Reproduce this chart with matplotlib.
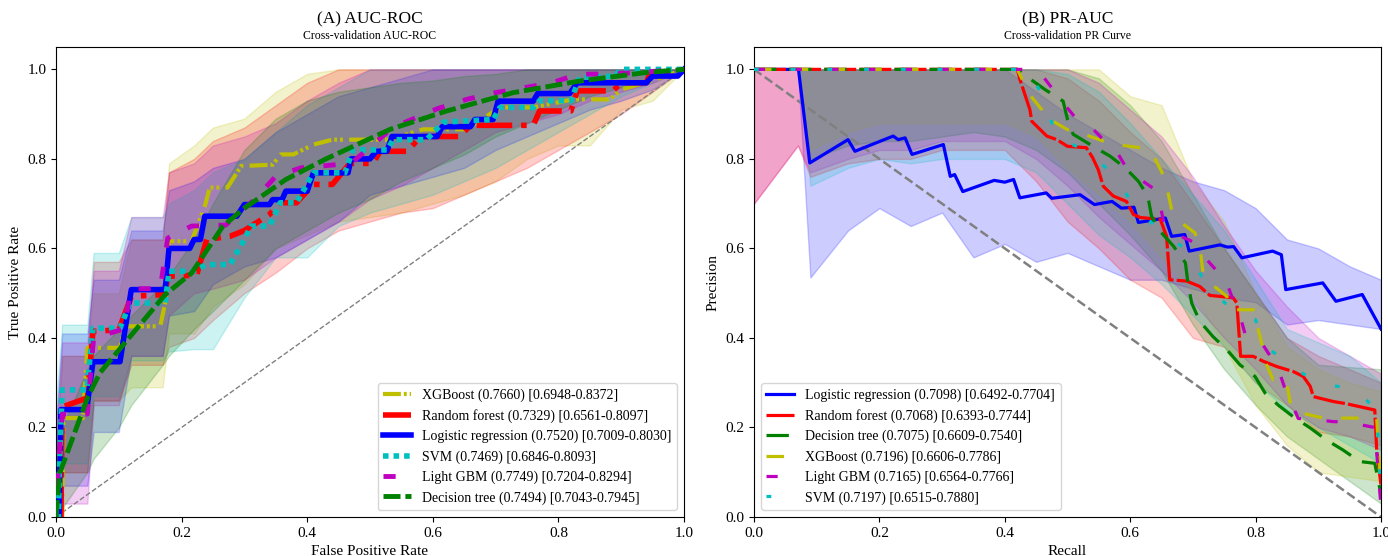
import numpy as np
import matplotlib
matplotlib.use("Agg")
import matplotlib.pyplot as plt

plt.rcParams['font.family'] = ['Liberation Serif', 'DejaVu Serif']

# ---------------- ROC data ----------------
xgb_fpr = [0, 0.01, 0.012, 0.043, 0.05, 0.102, 0.11, 0.166, 0.175, 0.18, 0.216, 0.237, 0.245, 0.273, 0.295,
           0.345, 0.358, 0.378, 0.41, 0.44, 0.53, 0.585, 0.654, 0.707, 0.76, 0.823, 0.882, 0.90, 0.95, 1.0]
xgb_tpr = [0, 0.0, 0.221, 0.221, 0.378, 0.378, 0.426, 0.426, 0.485, 0.616, 0.616, 0.694, 0.736, 0.736, 0.784,
           0.787, 0.81, 0.81, 0.832, 0.843, 0.843, 0.866, 0.866, 0.915, 0.915, 0.933, 0.933, 0.955, 0.975, 1.0]

rf_fpr = [0, 0.008, 0.01, 0.05, 0.059, 0.10, 0.12, 0.174, 0.178, 0.224, 0.24, 0.277, 0.30, 0.34, 0.357, 0.383,
          0.41, 0.44, 0.468, 0.505, 0.516, 0.56, 0.58, 0.643, 0.66, 0.76, 0.77, 0.82, 0.83, 0.887, 0.90, 0.94,
          0.945, 0.99, 1.0]
rf_tpr = [0, 0.0, 0.246, 0.266, 0.415, 0.418, 0.493, 0.497, 0.538, 0.54, 0.62, 0.627, 0.64, 0.676, 0.702, 0.702,
          0.743, 0.743, 0.79, 0.79, 0.817, 0.817, 0.85, 0.85, 0.875, 0.875, 0.907, 0.907, 0.952, 0.952, 0.97, 0.97,
          0.989, 0.989, 1.0]

lr_fpr = [0, 0.005, 0.008, 0.049, 0.059, 0.102, 0.12, 0.174, 0.18, 0.213, 0.22, 0.23, 0.237, 0.288, 0.30, 0.34,
          0.345, 0.36, 0.366, 0.40, 0.41, 0.465, 0.47, 0.50, 0.51, 0.527, 0.535, 0.607, 0.615, 0.66, 0.667, 0.696,
          0.704, 0.76, 0.767, 0.818, 0.83, 0.94, 0.95, 0.99, 1.0]
lr_tpr = [0, 0.0, 0.24, 0.24, 0.347, 0.347, 0.508, 0.508, 0.60, 0.60, 0.62, 0.62, 0.672, 0.672, 0.698, 0.698,
          0.709, 0.709, 0.728, 0.728, 0.769, 0.769, 0.80, 0.80, 0.817, 0.817, 0.85, 0.85, 0.872, 0.872, 0.888, 0.888,
          0.929, 0.929, 0.946, 0.946, 0.97, 0.97, 0.985, 0.985, 1.0]

svm_fpr = [0, 0.004, 0.006, 0.01, 0.049, 0.059, 0.102, 0.118, 0.174, 0.18, 0.218, 0.24, 0.277, 0.30, 0.31, 0.34,
           0.357, 0.383, 0.41, 0.46, 0.473, 0.527, 0.537, 0.59, 0.617, 0.696, 0.707, 0.76, 0.77, 0.82, 0.834,
           0.89, 0.90, 1.0]
svm_tpr = [0, 0.0, 0.13, 0.284, 0.284, 0.422, 0.422, 0.478, 0.478, 0.549, 0.549, 0.564, 0.564, 0.62, 0.65, 0.65,
           0.702, 0.702, 0.769, 0.769, 0.82, 0.82, 0.843, 0.843, 0.882, 0.888, 0.915, 0.915, 0.93, 0.93, 0.982,
           0.985, 1.0, 1.0]

lgbm_fpr = [0, 0.005, 0.01, 0.05, 0.06, 0.108, 0.12, 0.166, 0.178, 0.216, 0.27, 0.316, 0.35, 0.39, 0.47, 0.536,
            0.607, 0.654, 0.70, 0.79, 0.83, 0.89, 1.0]
lgbm_tpr = [0, 0.14, 0.23, 0.23, 0.40, 0.42, 0.51, 0.51, 0.623, 0.65, 0.652, 0.709, 0.761, 0.78, 0.79, 0.87,
            0.912, 0.933, 0.948, 0.97, 0.989, 0.99, 1.0]

dt_fpr = [0, 0.006, 0.051, 0.07, 0.118, 0.174, 0.216, 0.266, 0.30, 0.366, 0.43, 0.532, 0.622, 0.728, 0.834, 0.94, 1.0]
dt_tpr = [0, 0.098, 0.269, 0.322, 0.403, 0.497, 0.545, 0.65, 0.69, 0.754, 0.80, 0.866, 0.907, 0.948, 0.974, 0.993, 1.0]

# confidence bands on a shared fpr grid
roc_grid = [0, 0.01, 0.05, 0.06, 0.10, 0.12, 0.17, 0.18, 0.22, 0.25, 0.30, 0.35, 0.40, 0.45, 0.50, 0.55,
            0.60, 0.65, 0.70, 0.75, 0.80, 0.85, 0.90, 0.95, 1.00]
xgb_hi = [0.10, 0.36, 0.36, 0.50, 0.50, 0.62, 0.62, 0.79, 0.83, 0.87, 0.89, 0.95, 0.99, 1, 1, 1, 1, 1, 1, 1, 1, 1, 1, 1, 1]
xgb_lo = [0.00, 0.10, 0.10, 0.26, 0.26, 0.29, 0.29, 0.41, 0.41, 0.47, 0.52, 0.60, 0.63, 0.66, 0.67, 0.68, 0.70,
          0.72, 0.75, 0.80, 0.83, 0.83, 0.91, 0.93, 1.00]
rf_hi = [0.15, 0.36, 0.36, 0.57, 0.57, 0.62, 0.62, 0.77, 0.80, 0.84, 0.87, 0.92, 0.97, 1, 1, 1, 1, 1, 1, 1, 1, 1, 1, 1, 1]
rf_lo = [0.00, 0.10, 0.10, 0.26, 0.26, 0.34, 0.34, 0.38, 0.40, 0.44, 0.50, 0.546, 0.60, 0.64, 0.66, 0.68, 0.69,
         0.72, 0.75, 0.78, 0.82, 0.86, 0.90, 0.95, 1.00]
lr_hi = [0.20, 0.41, 0.41, 0.53, 0.53, 0.64, 0.64, 0.73, 0.75, 0.78, 0.80, 0.86, 0.90, 0.94, 0.96, 0.98, 1, 1, 1,
         1, 1, 1, 1, 1, 1]
lr_lo = [0.00, 0.07, 0.07, 0.19, 0.19, 0.36, 0.36, 0.45, 0.46, 0.52, 0.56, 0.58, 0.62, 0.66, 0.72, 0.74, 0.76,
         0.78, 0.82, 0.85, 0.88, 0.91, 0.93, 0.955, 1.00]
svm_hi = [0.25, 0.43, 0.43, 0.59, 0.59, 0.67, 0.67, 0.70, 0.73, 0.77, 0.80, 0.86, 0.92, 0.96, 1, 1, 1, 1, 1, 1,
          1, 1, 1, 1, 1]
svm_lo = [0.00, 0.12, 0.12, 0.27, 0.27, 0.35, 0.35, 0.37, 0.375, 0.375, 0.49, 0.58, 0.58, 0.65, 0.68, 0.70, 0.72,
          0.75, 0.78, 0.82, 0.86, 0.90, 0.94, 0.97, 1.00]
lgbm_hi = [0.20, 0.39, 0.39, 0.55, 0.55, 0.67, 0.67, 0.77, 0.79, 0.83, 0.85, 0.88, 0.93, 0.97, 1, 1, 1, 1, 1, 1,
           1, 1, 1, 1, 1]
lgbm_lo = [0.00, 0.03, 0.03, 0.25, 0.25, 0.36, 0.36, 0.45, 0.50, 0.51, 0.53, 0.58, 0.62, 0.66, 0.71, 0.74, 0.78,
           0.82, 0.86, 0.88, 0.90, 0.93, 0.95, 0.97, 1.00]
dt_hi = [0.05, 0.20, 0.33, 0.36, 0.42, 0.45, 0.52, 0.54, 0.62, 0.70, 0.82, 0.89, 0.93, 0.95, 0.96, 0.97, 0.975,
         0.985, 0.99, 1, 1, 1, 1, 1, 1]
dt_lo = [0.00, 0.02, 0.10, 0.13, 0.20, 0.25, 0.34, 0.36, 0.42, 0.46, 0.53, 0.60, 0.64, 0.68, 0.71, 0.75, 0.78,
         0.81, 0.85, 0.88, 0.91, 0.94, 0.96, 0.98, 1.00]

roc_labels = ["XGBoost (0.7660) [0.6948-0.8372]",
              "Random forest (0.7329) [0.6561-0.8097]",
              "Logistic regression (0.7520) [0.7009-0.8030]",
              "SVM (0.7469) [0.6846-0.8093]",
              "Light GBM (0.7749) [0.7204-0.8294]",
              "Decision tree (0.7494) [0.7043-0.7945]"]

# ---------------- PR data ----------------
lr_rec = [0.0, 0.071, 0.089, 0.150, 0.161, 0.222, 0.23, 0.241, 0.252, 0.302, 0.313, 0.32, 0.333, 0.383, 0.40,
          0.414, 0.424, 0.466, 0.475, 0.52, 0.543, 0.571, 0.586, 0.606, 0.613, 0.656, 0.666, 0.687, 0.694, 0.743,
          0.755, 0.765, 0.778, 0.827, 0.841, 0.848, 0.907, 0.928, 0.97, 1.0]
lr_prec = [1.0, 1.0, 0.791, 0.843, 0.817, 0.851, 0.843, 0.847, 0.81, 0.832, 0.761, 0.765, 0.727, 0.752, 0.748,
           0.754, 0.713, 0.724, 0.712, 0.72, 0.698, 0.705, 0.69, 0.692, 0.658, 0.668, 0.627, 0.631, 0.594, 0.608,
           0.603, 0.604, 0.579, 0.594, 0.586, 0.508, 0.523, 0.482, 0.497, 0.42]

rf_rec = [0.0, 0.42, 0.424, 0.44, 0.443, 0.467, 0.483, 0.50, 0.53, 0.54, 0.549, 0.557, 0.573, 0.594, 0.605, 0.616,
          0.648, 0.658, 0.663, 0.69, 0.711, 0.727, 0.764, 0.77, 0.775, 0.776, 0.796, 0.812, 0.834, 0.86, 0.876,
          0.887, 0.892, 0.924, 0.945, 0.99, 0.993, 1.0]
rf_prec = [1.0, 1.0, 0.978, 0.91, 0.884, 0.851, 0.843, 0.828, 0.825, 0.803, 0.776, 0.739, 0.717, 0.705, 0.676,
           0.669, 0.665, 0.627, 0.53, 0.527, 0.515, 0.495, 0.49, 0.478, 0.38, 0.359, 0.359, 0.348, 0.336, 0.325,
           0.314, 0.292, 0.269, 0.258, 0.253, 0.239, 0.15, 0.07]

dt_rec = [0.0, 0.42, 0.437, 0.464, 0.493, 0.50, 0.509, 0.541, 0.568, 0.592, 0.613, 0.628, 0.634, 0.648, 0.669,
          0.688, 0.692, 0.698, 0.711, 0.732, 0.754, 0.775, 0.799, 0.815, 0.836, 0.86, 0.887, 0.913, 0.939, 0.966,
          0.99, 1.0]
dt_prec = [1.0, 1.0, 0.982, 0.955, 0.929, 0.888, 0.855, 0.828, 0.806, 0.78, 0.75, 0.717, 0.672, 0.638, 0.605,
           0.568, 0.523, 0.478, 0.437, 0.403, 0.374, 0.34, 0.314, 0.277, 0.25, 0.224, 0.199, 0.172, 0.15, 0.124,
           0.12, 0.05]

xgb_rec = [0.0, 0.42, 0.429, 0.437, 0.459, 0.464, 0.472, 0.504, 0.52, 0.557, 0.578, 0.616, 0.634, 0.65, 0.658,
           0.666, 0.674, 0.703, 0.711, 0.716, 0.727, 0.754, 0.759, 0.799, 0.801, 0.812, 0.815, 0.828, 0.849, 0.856,
           0.871, 0.908, 0.993, 1.0]
xgb_prec = [1.0, 1.0, 0.974, 0.948, 0.91, 0.888, 0.888, 0.862, 0.858, 0.84, 0.832, 0.825, 0.814, 0.772, 0.739,
            0.687, 0.665, 0.635, 0.605, 0.546, 0.523, 0.493, 0.463, 0.463, 0.437, 0.374, 0.348, 0.306, 0.306, 0.247,
            0.233, 0.221, 0.221, 0.06]

lgbm_rec = [0.0, 0.44, 0.456, 0.483, 0.49, 0.515, 0.528, 0.557, 0.568, 0.594, 0.605, 0.641, 0.645, 0.655, 0.663,
            0.703, 0.708, 0.738, 0.748, 0.764, 0.77, 0.783, 0.80, 0.823, 0.831, 0.846, 0.849, 0.868, 0.884, 0.924,
            0.942, 0.99, 1.0]
lgbm_prec = [1.0, 1.0, 0.993, 0.944, 0.93, 0.888, 0.885, 0.843, 0.84, 0.78, 0.765, 0.73, 0.717, 0.647, 0.638,
             0.613, 0.597, 0.55, 0.546, 0.485, 0.474, 0.41, 0.41, 0.36, 0.352, 0.29, 0.28, 0.22, 0.22, 0.213, 0.213,
             0.20, 0.02]

svm_rec = [0.0, 0.44, 0.441, 0.466, 0.483, 0.53, 0.573, 0.605, 0.648, 0.69, 0.716, 0.751, 0.799, 0.823, 0.863,
           0.908, 0.96, 0.993, 1.0]
svm_prec = [1.0, 1.0, 0.995, 0.92, 0.845, 0.82, 0.765, 0.698, 0.638, 0.597, 0.532, 0.478, 0.442, 0.374, 0.33,
            0.295, 0.288, 0.236, 0.05]

pr_grid = [0.0, 0.07, 0.09, 0.15, 0.2, 0.25, 0.3, 0.35, 0.4, 0.45, 0.5, 0.55, 0.6, 0.65, 0.7, 0.75, 0.8, 0.85,
           0.9, 0.95, 1.0]
lr_pr_hi = [1, 1, 1, 1, 1, 1, 1, 1, 1, 0.95, 0.90, 0.86, 0.82, 0.78, 0.75, 0.73, 0.69, 0.62, 0.60, 0.56, 0.53]
lr_pr_lo = [1.0, 1.0, 0.535, 0.64, 0.69, 0.65, 0.68, 0.58, 0.61, 0.57, 0.59, 0.56, 0.53, 0.53, 0.51, 0.49, 0.48,
            0.43, 0.44, 0.43, 0.42]
rf_pr_hi = [1, 1, 1, 1, 1, 1, 1, 1, 1, 1, 0.98, 0.93, 0.86, 0.80, 0.70, 0.60, 0.50, 0.40, 0.36, 0.33, 0.30]
rf_pr_lo = [0.70, 0.83, 0.76, 0.79, 0.80, 0.80, 0.82, 0.82, 0.82, 0.75, 0.66, 0.60, 0.53, 0.49, 0.40, 0.38, 0.30,
            0.25, 0.19, 0.18, 0.16]
dt_pr_hi = [1, 1, 1, 1, 1, 1, 1, 1, 1, 1, 1, 0.98, 0.92, 0.84, 0.72, 0.60, 0.50, 0.40, 0.34, 0.335, 0.33]
dt_pr_lo = [1.0, 1.0, 0.80, 0.83, 0.84, 0.84, 0.85, 0.86, 0.85, 0.82, 0.77, 0.70, 0.63, 0.55, 0.43, 0.33, 0.25,
            0.18, 0.13, 0.08, 0.03]
xgb_pr_hi = [1, 1, 1, 1, 1, 1, 1, 1, 1, 1, 1, 1, 0.94, 0.92, 0.75, 0.66, 0.50, 0.38, 0.33, 0.30, 0.28]
xgb_pr_lo = [1.0, 1.0, 0.82, 0.86, 0.88, 0.88, 0.88, 0.88, 0.88, 0.85, 0.78, 0.72, 0.66, 0.58, 0.50, 0.38, 0.25,
             0.16, 0.10, 0.09, 0.08]
lgbm_pr_hi = [1, 1, 1, 1, 1, 1, 1, 1, 1, 1, 1, 0.97, 0.91, 0.85, 0.76, 0.65, 0.55, 0.47, 0.40, 0.36, 0.32]
lgbm_pr_lo = [0.70, 0.83, 0.77, 0.80, 0.82, 0.82, 0.84, 0.84, 0.84, 0.80, 0.74, 0.67, 0.61, 0.55, 0.48, 0.40, 0.33,
              0.25, 0.20, 0.18, 0.15]
svm_pr_hi = [1, 1, 1, 1, 1, 1, 1, 1, 1, 1, 0.99, 0.95, 0.88, 0.80, 0.72, 0.64, 0.53, 0.42, 0.39, 0.36, 0.30]
svm_pr_lo = [1.0, 1.0, 0.74, 0.78, 0.80, 0.79, 0.80, 0.80, 0.80, 0.77, 0.70, 0.63, 0.58, 0.52, 0.45, 0.38, 0.30,
             0.24, 0.20, 0.16, 0.12]

pr_labels = ["Logistic regression (0.7098) [0.6492-0.7704]",
             "Random forest (0.7068) [0.6393-0.7744]",
             "Decision tree (0.7075) [0.6609-0.7540]",
             "XGBoost (0.7196) [0.6606-0.7786]",
             "Light GBM (0.7165) [0.6564-0.7766]",
             "SVM (0.7197) [0.6515-0.7880]"]

fig = plt.figure(figsize=(13.88, 5.56), dpi=100)
ax_roc = fig.add_axes([0.0403, 0.0701, 0.4525, 0.8454])
ax_pr = fig.add_axes([0.5432, 0.0701, 0.4518, 0.8454])

# ROC panel
roc_curves = [
    (xgb_fpr, xgb_tpr, xgb_lo, xgb_hi, 'y', (0, (4.3, 0.7, 0.7, 0.7, 0.7, 1.5)), 3),
    (rf_fpr, rf_tpr, rf_lo, rf_hi, 'r', '-.', 4),
    (lr_fpr, lr_tpr, lr_lo, lr_hi, 'b', '-', 4),
    (svm_fpr, svm_tpr, svm_lo, svm_hi, 'c', (0, (1, 0.9)), 4),
    (lgbm_fpr, lgbm_tpr, lgbm_lo, lgbm_hi, 'm', (0, (2.5, 4)), 3.5),
    (dt_fpr, dt_tpr, dt_lo, dt_hi, 'g', (0, (3.5, 1.0)), 3.5),
]
for (x, y, lo, hi, c, ls, lw), lab in zip(roc_curves, roc_labels):
    ax_roc.fill_between(roc_grid, lo, hi, color=c, alpha=0.2, zorder=1)
    ax_roc.plot(x, y, color=c, linestyle=ls, lw=lw, label=lab, zorder=3)

ax_roc.plot([0, 1], [0, 1], linestyle='--', color='gray', lw=1, zorder=2)
ax_roc.set_xlim(0, 1.0)
ax_roc.set_ylim(0, 1.05)
ax_roc.set_xlabel('False Positive Rate', fontsize=11)
ax_roc.set_ylabel('True Positive Rate', fontsize=11)
ax_roc.tick_params(labelsize=11)
ax_roc.legend(loc='lower right', fontsize=10, labelspacing=0.5)

# PR panel
pr_curves = [
    (lr_rec, lr_prec, lr_pr_lo, lr_pr_hi, 'b', '-', 2.3),
    (rf_rec, rf_prec, rf_pr_lo, rf_pr_hi, 'r', (0, (10, 1)), 2.3),
    (dt_rec, dt_prec, dt_pr_lo, dt_pr_hi, 'g', (0, (7, 4)), 2.3),
    (xgb_rec, xgb_prec, xgb_pr_lo, xgb_pr_hi, 'y', (0, (5.5, 6)), 2.3),
    (lgbm_rec, lgbm_prec, lgbm_pr_lo, lgbm_pr_hi, 'm', (0, (3.5, 8)), 2.3),
    (svm_rec, svm_prec, svm_pr_lo, svm_pr_hi, 'c', (0, (1.5, 10)), 2.3),
]
for (x, y, lo, hi, c, ls, lw), lab in zip(pr_curves, pr_labels):
    ax_pr.fill_between(pr_grid, lo, hi, color=c, alpha=0.2, zorder=1)
    ax_pr.plot(x, y, color=c, linestyle=ls, lw=lw, label=lab, zorder=3)

ax_pr.plot([0, 1], [1, 0], linestyle='--', color='gray', lw=1.8, zorder=2)
ax_pr.set_xlim(0, 1.0)
ax_pr.set_ylim(0, 1.05)
ax_pr.set_xlabel('Recall', fontsize=11)
ax_pr.set_ylabel('Precision', fontsize=11)
ax_pr.tick_params(labelsize=11)
ax_pr.legend(loc='lower left', fontsize=10, labelspacing=0.5)

for ax, title, sub in [(ax_roc, '(A) AUC-ROC', 'Cross-validation AUC-ROC'),
                       (ax_pr, '(B) PR-AUC', 'Cross-validation PR Curve')]:
    ax.text(0.5, 1.058, title, transform=ax.transAxes, ha='center', va='center', fontsize=12.5)
    ax.text(0.5, 1.024, sub, transform=ax.transAxes, ha='center', va='center', fontsize=8.5)

fig.savefig('out.png', dpi=100)
